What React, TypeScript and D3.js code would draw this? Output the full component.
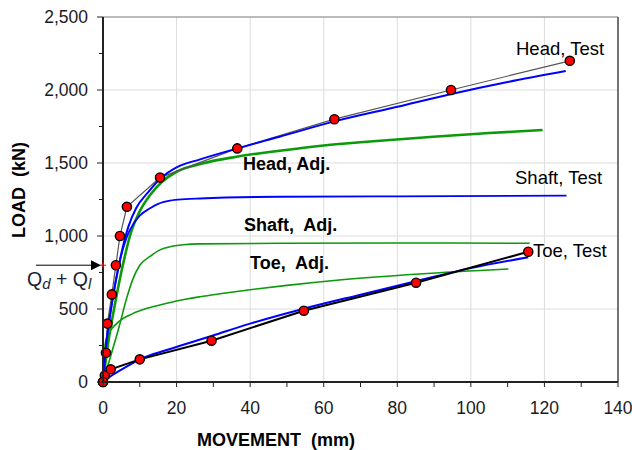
import React from "react";
import * as d3 from "d3";

// Load–movement data (movement in mm, load in kN)
const headTestMove = [0, 0.8, 1.2, 2.4, 3.5, 4.6, 6.5, 15.5, 36.5, 62.9, 94.6, 126.9];
const headTestLoad = [0, 200, 400, 600, 800, 1000, 1200, 1400, 1600, 1800, 2000, 2200];

const toeTestMove = [0, 0.5, 2.1, 10.0, 29.5, 54.6, 85.1, 115.6];
const toeTestLoad = [0, 45, 87, 155, 283, 488, 680, 892];

const headSimMove = [0, 1.0, 2.5, 4.6, 6.9, 9.0, 12.3, 15.9, 20, 26.4, 36.5, 48, 62.9, 80, 94.7, 110, 125.8];
const headSimLoad = [0, 290, 550, 836, 1064, 1190, 1300, 1400, 1470, 1525, 1600, 1680, 1785, 1885, 1973, 2055, 2130];

const shaftSimMove = [0, 1.0, 2.5, 4.6, 6.9, 8.2, 10, 12.8, 15, 18.2, 22.3, 26.4, 48, 80, 126];
const shaftSimLoad = [0, 290, 550, 830, 1020, 1080, 1140, 1190, 1220, 1242, 1252, 1257, 1269, 1272, 1276];

const toeSimMove = [0, 1.9, 6.4, 10, 17.3, 29.5, 40, 54.6, 70, 85, 100, 115.6];
const toeSimLoad = [0, 36, 105, 155, 219, 315, 400, 502, 598, 690, 780, 854];

const headAdjMove = [0, 1.3, 3.3, 5.1, 7.8, 10, 12.8, 16, 20, 26.4, 36.3, 48, 60, 71.7, 89.8, 105, 119.5];
const headAdjLoad = [0, 250, 540, 767, 1040, 1170, 1281, 1370, 1440, 1493, 1543, 1584, 1620, 1646, 1680, 1705, 1726];

const shaftAdjMove = [0, 2, 4.4, 6.5, 8.2, 10, 12.8, 15.5, 18, 21.8, 26.4, 48, 80, 116];
const shaftAdjLoad = [0, 170, 380, 580, 710, 800, 860, 905, 925, 940, 946, 950, 952, 950];

const toeAdjMove = [0, 0.3, 1.0, 3.7, 8.2, 12, 17.3, 22, 26.4, 31.8, 40, 50, 63.5, 86, 110.2];
const toeAdjLoad = [0, 190, 305, 400, 470, 505, 539, 565, 584, 604, 632, 662, 697, 740, 774];

const designLoad = 800;

const xTicks = [0, 20, 40, 60, 80, 100, 120, 140];
const yTicks = [0, 500, 1000, 1500, 2000, 2500];

const W = 632;
const H = 450;
const left = 103;
const right = 618;
const top = 17;
const bottom = 382;

const FONT = "'Liberation Sans', Arial, sans-serif";

const x = d3.scaleLinear().domain([0, 140]).range([left, right]);
const y = d3.scaleLinear().domain([0, 2500]).range([bottom, top]);

type P = [number, number];
const zip = (xs: number[], ys: number[]): P[] => xs.map((v, i) => [v, ys[i]]);

const smooth = d3
  .line<P>()
  .x((d) => x(d[0]))
  .y((d) => y(d[1]))
  .curve(d3.curveMonotoneX);

const straight = d3
  .line<P>()
  .x((d) => x(d[0]))
  .y((d) => y(d[1]));

const fmt = d3.format(",");

export default function App() {
  const headTest = zip(headTestMove, headTestLoad);
  const toeTest = zip(toeTestMove, toeTestLoad);
  const minorX = d3.range(0, 141, 10);
  const minorY = d3.range(0, 2501, 250);
  const qy = y(designLoad);

  return (
    <svg
      width={W}
      height={H}
      style={{ position: "absolute", left: 0, top: 0, background: "#fff" }}
      fontFamily={FONT}
    >
      {/* grid */}
      {xTicks.slice(1, -1).map((t) => (
        <line key={"gx" + t} x1={x(t)} x2={x(t)} y1={top} y2={bottom} stroke="#dcdcdc" strokeWidth={1} />
      ))}
      {yTicks.slice(1, -1).map((t) => (
        <line key={"gy" + t} x1={left} x2={right} y1={y(t)} y2={y(t)} stroke="#dcdcdc" strokeWidth={1} />
      ))}

      {/* frame */}
      <line x1={left} x2={right} y1={top} y2={top} stroke="#777" strokeWidth={1} />
      <line x1={right} x2={right} y1={top} y2={bottom} stroke="#444" strokeWidth={1.5} />

      {/* adjusted curves */}
      <path d={smooth(zip(toeAdjMove, toeAdjLoad)) || ""} fill="none" stroke="#0a9a0a" strokeWidth={1.6} />
      <path d={smooth(zip(shaftAdjMove, shaftAdjLoad)) || ""} fill="none" stroke="#0a9a0a" strokeWidth={1.6} />
      <path d={smooth(zip(headAdjMove, headAdjLoad)) || ""} fill="none" stroke="#0a9a0a" strokeWidth={2.6} />

      {/* simulated curves */}
      <path d={smooth(zip(shaftSimMove, shaftSimLoad)) || ""} fill="none" stroke="#0000ff" strokeWidth={1.8} />
      <path d={smooth(zip(toeSimMove, toeSimLoad)) || ""} fill="none" stroke="#0000ff" strokeWidth={2} />

      {/* test lines */}
      <path d={straight(toeTest) || ""} fill="none" stroke="#000" strokeWidth={2} />
      <path d={straight(headTest) || ""} fill="none" stroke="#555" strokeWidth={1.2} />
      <path d={smooth(zip(headSimMove, headSimLoad)) || ""} fill="none" stroke="#0000ff" strokeWidth={2} />

      {/* test points */}
      {[...toeTest, ...headTest].map((d, i) => (
        <circle key={"p" + i} cx={x(d[0])} cy={y(d[1])} r={4.6} fill="#ff0000" stroke="#000" strokeWidth={1.4} />
      ))}

      {/* axes */}
      <line x1={left} x2={left} y1={top} y2={bottom + 1} stroke="#222" strokeWidth={2} />
      <line x1={left - 1} x2={right} y1={bottom} y2={bottom} stroke="#222" strokeWidth={2} />
      {minorY.map((t) => (
        <line
          key={"ty" + t}
          x1={left - (t % 500 === 0 ? 6 : 4)}
          x2={left}
          y1={y(t)}
          y2={y(t)}
          stroke="#222"
          strokeWidth={1}
        />
      ))}
      {minorX.map((t) => (
        <line key={"tx" + t} x1={x(t)} x2={x(t)} y1={bottom} y2={bottom + 5} stroke="#222" strokeWidth={1} />
      ))}
      {yTicks.map((t) => (
        <text key={"ly" + t} x={88} y={y(t) + 6} textAnchor="end" fontSize={17.5} fill="#1b1b24">
          {fmt(t)}
        </text>
      ))}
      {xTicks.map((t) => (
        <text key={"lx" + t} x={x(t)} y={414} textAnchor="middle" fontSize={17.5} fill="#1b1b24">
          {t}
        </text>
      ))}

      {/* axis titles */}
      <text x={276} y={446} textAnchor="middle" fontSize={18} fontWeight="bold" fill="#000" style={{ whiteSpace: "pre" }}>
        {"MOVEMENT  (mm)"}
      </text>
      <text
        transform="translate(25,190) rotate(-90)"
        textAnchor="middle"
        fontSize={18}
        fontWeight="bold"
        fill="#000"
        style={{ whiteSpace: "pre" }}
      >
        {"LOAD  (kN)"}
      </text>

      {/* design load marker */}
      <line x1={36} x2={93} y1={qy} y2={qy} stroke="#000" strokeWidth={1} />
      <path d={`M${101},${qy} L${91},${qy - 5} L${91},${qy + 5} Z`} fill="#000" />
      <path d={`M${x(0) - 3},${qy} h6 M${x(0)},${qy - 3} v6`} stroke="#ff0000" strokeWidth={1} />
      <text x={27} y={286} fontSize={19.5} fill="#1a1f33">
        Q
        <tspan fontStyle="italic" fontSize={15} dy={3}>d</tspan>
        <tspan dy={-3}> + Q</tspan>
        <tspan fontStyle="italic" fontSize={15} dy={3}>l</tspan>
      </text>

      {/* curve labels */}
      <text x={516} y={55} fontSize={18.5} fill="#000">Head, Test</text>
      <text x={515} y={184} fontSize={18.5} fill="#000">Shaft, Test</text>
      <text x={533} y={257} fontSize={18.5} fill="#000">Toe, Test</text>
      <text x={243} y={170} fontSize={18} fontWeight="bold" fill="#000" style={{ whiteSpace: "pre" }}>Head, Adj.</text>
      <text x={244} y={231} fontSize={18} fontWeight="bold" fill="#000" style={{ whiteSpace: "pre" }}>{"Shaft,  Adj."}</text>
      <text x={250} y={269} fontSize={18} fontWeight="bold" fill="#000" style={{ whiteSpace: "pre" }}>{"Toe,  Adj."}</text>
    </svg>
  );
}
